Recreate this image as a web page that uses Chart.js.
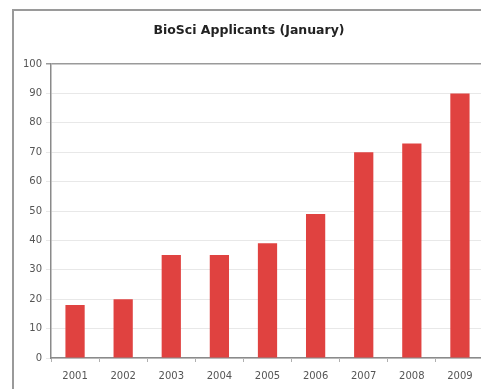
<!DOCTYPE html>
<html>
<head>
<meta charset="utf-8">
<script src="https://cdn.jsdelivr.net/npm/chart.js@4.4.1/dist/chart.umd.min.js"></script>
<style>
  html, body { margin: 0; padding: 0; background: #fff; }
  #clip { position: relative; width: 481px; height: 389px; overflow: hidden; background: #fff; }
  #frame { position: absolute; left: 12px; top: 9px; width: 480px; height: 390px; border-left: 2px solid #9a9a9a; border-top: 2px solid #9a9a9a; background: #fff; }
  canvas { display: block; }
</style>
</head>
<body>
<div id="clip">
  <div id="frame"><canvas id="applicantsChart" width="480" height="390"></canvas></div>
</div>
<script>
// applicants per year, January intake
const years = ["2001", "2002", "2003", "2004", "2005", "2006", "2007", "2008", "2009"];
const applicants = [18, 20, 35, 35, 39, 49, 70, 73, 90];
const yTicks = [0, 10, 20, 30, 40, 50, 60, 70, 80, 90, 100];

const ctx = document.getElementById("applicantsChart").getContext("2d");

const chart = new Chart(ctx, {
    type: "bar",
    data: {
        labels: years,
        datasets: [{
            label: "Applicants",
            data: applicants,
            backgroundColor: "#e04240",
            borderWidth: 0,
            barPercentage: 0.4,
            categoryPercentage: 1.0
        }]
    },
    options: {
        responsive: false,
        animation: false,
        layout: { padding: { left: 0, right: 10, top: 0, bottom: 0 } },
        plugins: {
            legend: { display: false },
            tooltip: { enabled: false },
            title: {
                display: true,
                text: "BioSci Applicants (January)",
                color: "#222",
                font: { family: "DejaVu Sans", size: 12.5, weight: "bold" },
                padding: { top: 12, bottom: 26 }
            }
        },
        scales: {
            x: {
                grid: { drawOnChartArea: false, drawTicks: true, tickLength: 4, color: "#b0b0b0" },
                border: { display: true, color: "#8a8a8a", width: 1.5 },
                ticks: { color: "#555", font: { family: "DejaVu Sans", size: 10 }, padding: 8 },
                afterFit: (scale) => { scale.height = 43; }
            },
            y: {
                min: 0,
                max: 100,
                afterBuildTicks: (scale) => { scale.ticks = yTicks.map(v => ({ value: v })); },
                grid: {
                    color: (c) => c.tick && c.tick.value === 100 ? "#9a9a9a" : "#e8e8e8",
                    lineWidth: (c) => c.tick && c.tick.value === 100 ? 1.5 : 1,
                    tickLength: 5
                },
                border: { display: true, color: "#8a8a8a", width: 1.5 },
                ticks: { color: "#555", font: { family: "DejaVu Sans", size: 10 }, padding: 4 },
                afterFit: (scale) => { scale.width = 37; }
            }
        }
    }
});
</script>
</body>
</html>
